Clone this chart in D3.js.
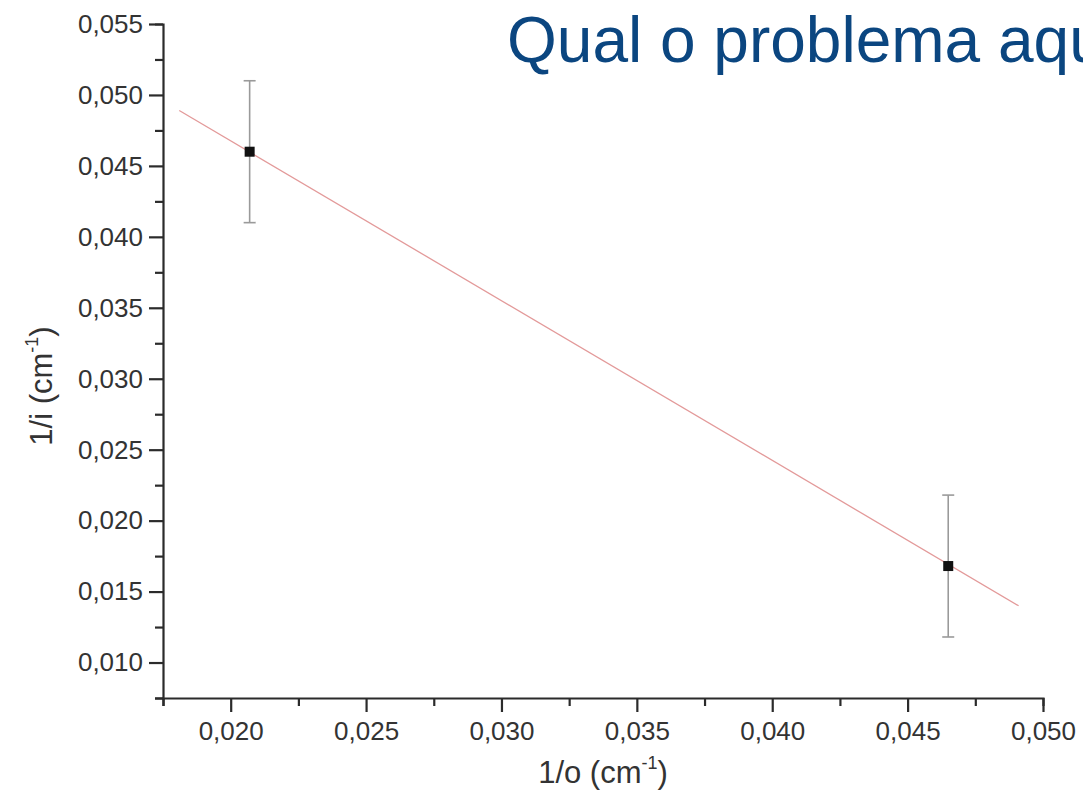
<!DOCTYPE html>
<html>
<head>
<meta charset="utf-8">
<script src="https://cdn.jsdelivr.net/npm/d3@7"></script>
<style>
  body { margin: 0; background: #fff; overflow: hidden; }
  svg { display: block; font-family: "Liberation Sans", Arial, sans-serif; }
</style>
</head>
<body>
<script>
// measured points (1/o, 1/i) with their error bars
const objInv = [0.0207, 0.0465];
const imgInv = [0.0460, 0.0168];
const imgErr = [0.0050, 0.0050];

// fitted straight line, drawn from its two ends
const fitX = [0.0181, 0.0491];
const fitY = [0.0489, 0.0140];

const xTicks = [0.020, 0.025, 0.030, 0.035, 0.040, 0.045, 0.050];
const yTicks = [0.010, 0.015, 0.020, 0.025, 0.030, 0.035, 0.040, 0.045, 0.050, 0.055];
const xMinor = [0.0175, 0.0225, 0.0275, 0.0325, 0.0375, 0.0425, 0.0475];
const yMinor = [0.0075, 0.0125, 0.0175, 0.0225, 0.0275, 0.0325, 0.0375, 0.0425, 0.0475, 0.0525];

const titleText = "Qual o problema aqui?";

const svgWidth = 1083;
const svgHeight = 810;
const margin = {top: 24, right: 40, bottom: 112, left: 163};

const fmt = d => d3.format(".3f")(d).replace(".", ",");

function main() {
    const svg = d3.select("body")
        .append("svg")
        .attr("width", svgWidth)
        .attr("height", svgHeight);

    const x = d3.scaleLinear()
        .domain([0.0175, 0.050])
        .range([margin.left, svgWidth - margin.right]);
    const y = d3.scaleLinear()
        .domain([0.0075, 0.055])
        .range([svgHeight - margin.bottom, margin.top]);

    // minor ticks first so the axes sit on top
    const gx = svg.append("g")
        .attr("transform", `translate(0, ${y(0.0075)})`);
    gx.call(d3.axisBottom(x).tickValues(xMinor).tickSize(8).tickFormat(""))
        .call(g => g.select(".domain").remove());
    gx.append("g")
        .call(d3.axisBottom(x).tickValues(xTicks).tickSize(14).tickSizeOuter(8)
            .tickPadding(10).tickFormat(fmt));

    const gy = svg.append("g")
        .attr("transform", `translate(${x(0.0175)}, 0)`);
    gy.call(d3.axisLeft(y).tickValues(yMinor).tickSize(8).tickFormat(""))
        .call(g => g.select(".domain").remove());
    gy.append("g")
        .call(d3.axisLeft(y).tickValues(yTicks).tickSize(14).tickSizeOuter(8)
            .tickPadding(6).tickFormat(fmt));

    svg.selectAll(".domain, .tick line")
        .attr("stroke", "#2b2b2b")
        .attr("stroke-width", 2.2);
    svg.selectAll(".tick text")
        .attr("fill", "#333")
        .attr("font-size", 26)
        .attr("font-family", "Liberation Sans, Arial, sans-serif");

    // fit line
    svg.append("line")
        .attr("x1", x(fitX[0])).attr("y1", y(fitY[0]))
        .attr("x2", x(fitX[1])).attr("y2", y(fitY[1]))
        .attr("stroke", "#e39a9a")
        .attr("stroke-width", 1.3);

    const pts = objInv.map((v, i) => ({x: v, y: imgInv[i], e: imgErr[i]}));

    const gErr = svg.append("g")
        .attr("stroke", "#9a9a9a")
        .attr("stroke-width", 1.6);
    gErr.selectAll(null).data(pts).join("line")
        .attr("x1", d => x(d.x)).attr("x2", d => x(d.x))
        .attr("y1", d => y(d.y + d.e)).attr("y2", d => y(d.y - d.e));
    gErr.selectAll(null).data(pts.flatMap(d => [d.y + d.e, d.y - d.e].map(v => ({x: d.x, v}))))
        .join("line")
        .attr("x1", d => x(d.x) - 6).attr("x2", d => x(d.x) + 6)
        .attr("y1", d => y(d.v)).attr("y2", d => y(d.v));

    svg.append("g").selectAll(null).data(pts).join("rect")
        .attr("x", d => x(d.x) - 5).attr("y", d => y(d.y) - 5)
        .attr("width", 10).attr("height", 10)
        .attr("fill", "#111");

    // axis titles
    const xt = svg.append("text")
        .attr("x", 603).attr("y", 783)
        .attr("text-anchor", "middle")
        .attr("font-size", 31)
        .attr("fill", "#333");
    xt.append("tspan").text("1/o (cm");
    xt.append("tspan").attr("font-size", 18).attr("dy", -14).text("-1");
    xt.append("tspan").attr("dy", 14).text(")");

    const yt = svg.append("text")
        .attr("transform", "translate(52, 386) rotate(-90)")
        .attr("text-anchor", "middle")
        .attr("font-size", 31)
        .attr("fill", "#333");
    yt.append("tspan").text("1/i (cm");
    yt.append("tspan").attr("font-size", 18).attr("dy", -14).text("-1");
    yt.append("tspan").attr("dy", 14).text(")");

    // slide title, runs off the right edge
    svg.append("text")
        .attr("x", 507).attr("y", 62)
        .attr("font-size", 64)
        .attr("fill", "#0b4680")
        .text(titleText);
}

window.onload = main;
</script>
</body>
</html>
